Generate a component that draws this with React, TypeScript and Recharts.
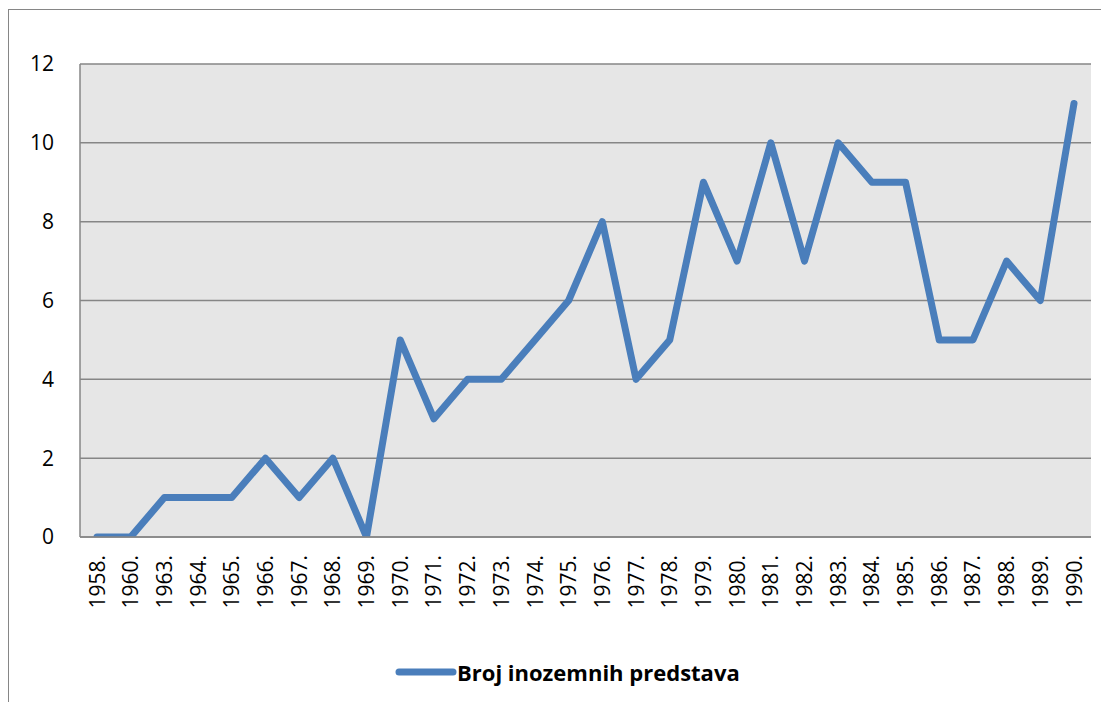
import { CartesianGrid, Legend, Line, LineChart, XAxis, YAxis } from "recharts";

const years = [
  "1958.", "1960.", "1963.", "1964.", "1965.", "1966.", "1967.", "1968.", "1969.", "1970.",
  "1971.", "1972.", "1973.", "1974.", "1975.", "1976.", "1977.", "1978.", "1979.", "1980.",
  "1981.", "1982.", "1983.", "1984.", "1985.", "1986.", "1987.", "1988.", "1989.", "1990.",
];
const shows = [0, 0, 1, 1, 1, 2, 1, 2, 0, 5, 3, 4, 4, 5, 6, 8, 4, 5, 9, 7, 10, 7, 10, 9, 9, 5, 5, 7, 6, 11];
const yTicks = [0, 2, 4, 6, 8, 10, 12];
const seriesName = "Broj inozemnih predstava";

const data = years.map((year, i) => ({ year, value: shows[i] }));

const FONT = "'Open Sans', 'Liberation Sans', sans-serif";
const BLUE = "#4a7ebb";
const GRAY = "#868686";

function YearTick({ x, y, payload }: any) {
  return (
    <text
      x={x}
      y={y + 18}
      transform={`rotate(-90, ${x}, ${y + 18})`}
      textAnchor="end"
      dy="0.36em"
      fontSize={21}
      fontFamily={FONT}
      fill="#000"
    >
      {payload.value}
    </text>
  );
}

function LegendBox() {
  return (
    <div style={{ display: "flex", alignItems: "center", fontFamily: FONT }}>
      <svg width={62} height={12}>
        <line x1={4} y1={6} x2={58} y2={6} stroke={BLUE} strokeWidth={7} strokeLinecap="round" />
      </svg>
      <span style={{ fontWeight: 700, fontSize: 22, color: "#000" }}>{seriesName}</span>
    </div>
  );
}

export default function App() {
  return (
    <div
      style={{
        marginTop: 1,
        width: 1100,
        height: 693,
        borderLeft: `1px solid ${GRAY}`,
        borderTop: `1px solid ${GRAY}`,
        background: "#fff",
      }}
    >
      <LineChart width={1100} height={692} data={data} margin={{ top: 54, right: 18, left: 0, bottom: 0 }}>
        <CartesianGrid vertical={false} stroke={GRAY} strokeWidth={1.5} fill="#e6e6e6" />
        <XAxis
          dataKey="year"
          interval={0}
          height={165}
          padding={{ left: 17, right: 17 }}
          tickLine={false}
          tickSize={0}
          tickMargin={0}
          axisLine={{ stroke: GRAY, strokeWidth: 1.5 }}
          tick={<YearTick />}
        />
        <YAxis
          width={71}
          domain={[0, 12]}
          ticks={yTicks}
          allowDataOverflow
          tickLine={false}
          tickSize={0}
          tickMargin={26}
          axisLine={{ stroke: GRAY, strokeWidth: 1.5 }}
          tick={{ fontSize: 21, fontFamily: FONT, fill: "#000" }}
        />
        <Legend
          layout="horizontal"
          verticalAlign="middle"
          content={<LegendBox />}
          wrapperStyle={{ top: 647, left: 386, width: "auto" }}
        />
        <Line
          type="linear"
          dataKey="value"
          name={seriesName}
          stroke={BLUE}
          strokeWidth={7}
          strokeLinecap="round"
          strokeLinejoin="round"
          dot={false}
          activeDot={false}
          isAnimationActive={false}
        />
      </LineChart>
    </div>
  );
}
